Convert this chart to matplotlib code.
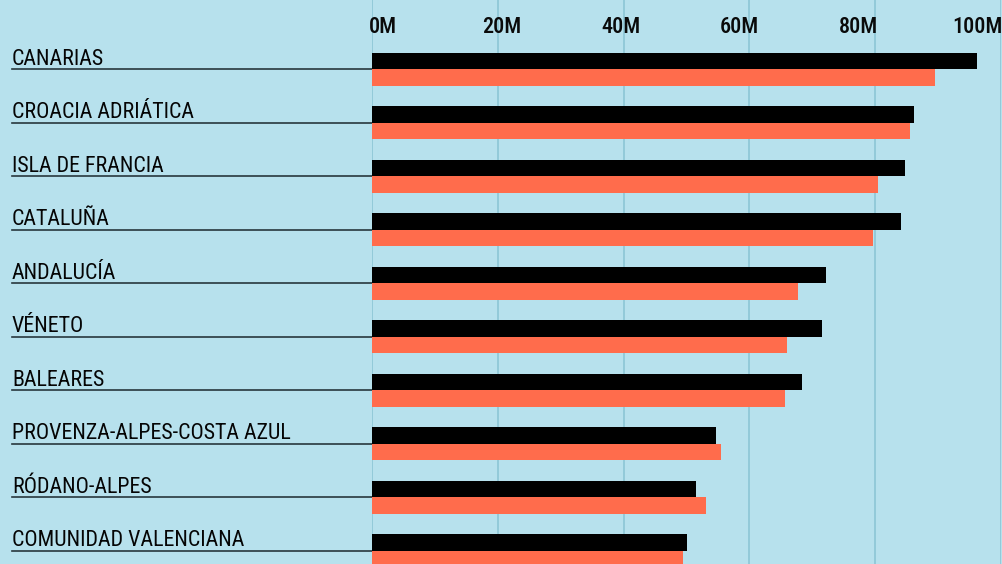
import matplotlib
matplotlib.use("Agg")
import matplotlib.pyplot as plt
import matplotlib.transforms as mtransforms
from matplotlib import font_manager
import numpy as np

regions = ["CANARIAS", "CROACIA ADRIÁTICA", "ISLA DE FRANCIA", "CATALUÑA",
           "ANDALUCÍA", "VÉNETO", "BALEARES", "PROVENZA-ALPES-COSTA AZUL",
           "RÓDANO-ALPES", "COMUNIDAD VALENCIANA"]
series_black = [96.2, 86.1, 84.7, 84.1, 72.2, 71.5, 68.4, 54.7, 51.5, 50.1]
series_orange = [89.5, 85.5, 80.4, 79.6, 67.7, 65.9, 65.6, 55.5, 53.1, 49.4]
tick_values = [0, 20, 40, 60, 80, 100]
tick_labels = ["0M", "20M", "40M", "60M", "80M", "100M"]

available = {f.name for f in font_manager.fontManager.ttflist}
family = "DejaVu Sans"
for cand in ["Roboto Condensed", "Liberation Sans Narrow", "Open Sans Condensed",
             "DejaVu Sans Condensed", "Liberation Sans"]:
    if cand in available:
        family = cand
        break
plt.rcParams["font.family"] = [family, "DejaVu Sans"]

BG = "#b7e1ed"
BLACK = "#000000"
ORANGE = "#ff6c4c"
GRID = "#8cc6d6"
UNDER = "#27373d"

W, H = 1002, 564
fig = plt.figure(figsize=(W / 100, H / 100), dpi=100)
fig.patch.set_facecolor(BG)

x0_px, x1_px = 371.7, 1001.2
pitch = 53.5
first_line = 69.3
ytop = -first_line / pitch
ybot = (H - first_line) / pitch

ax = fig.add_axes([x0_px / W, 0, (x1_px - x0_px) / W, 1])
ax.set_facecolor(BG)
ax.set_xlim(0, 100)
ax.set_ylim(ybot, ytop)
for s in ax.spines.values():
    s.set_visible(False)
ax.set_xticks([])
ax.set_yticks([])

for v in tick_values:
    ax.axvline(v, color=GRID, lw=1.2, zorder=0)

y = np.arange(len(regions))
bh = 0.312
ax.barh(y - bh / 2, series_black, height=bh, color=BLACK, zorder=3)
ax.barh(y + bh / 2, series_orange, height=bh, color=ORANGE, zorder=3)

# row labels and underlines (left of axes)
blend = mtransforms.blended_transform_factory(fig.transFigure, ax.transData)
for i, name in enumerate(regions):
    ax.text(12 / W, i - 4.5 / pitch, name, transform=blend, ha="left",
            va="baseline", fontsize=15.8, fontweight="normal",
            color="#050505", clip_on=False)
    ax.plot([12 / W, x0_px / W], [i, i], transform=blend, color=UNDER,
            lw=1.2, clip_on=False, zorder=2)

# top tick labels, spread edge to edge
n = len(tick_values)
first_c, last_c = 1.75, 96.2
for k, (v, lab) in enumerate(zip(tick_values, tick_labels)):
    xc = first_c + (last_c - first_c) * k / (n - 1)
    ax.text(xc, (33.3 - first_line) / pitch, lab, ha="center", va="baseline",
            fontsize=16, fontweight="medium", color="#0a0a0a", zorder=4)

fig.savefig("out.png", dpi=100, facecolor=BG)
